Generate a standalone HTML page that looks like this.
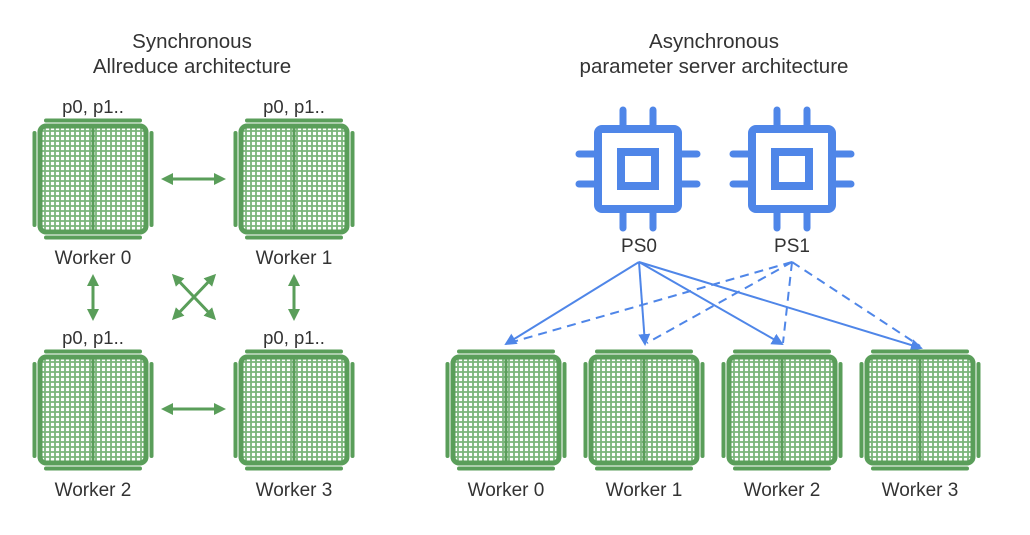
<!DOCTYPE html>
<html><head><meta charset="utf-8"><style>
body{margin:0;background:#fff;}
svg text{font-family:"Liberation Sans",sans-serif;fill:#333;}
</style></head><body>
<svg width="1030" height="530" viewBox="0 0 1030 530" xmlns="http://www.w3.org/2000/svg">
<defs>
<g id="w">
<rect x="-53" y="-53" width="106" height="106" rx="6" fill="#fff"/>
<path stroke="#7ab57a" stroke-width="1.8" fill="none" d="M-48 -53V53M-43 -53V53M-38 -53V53M-33 -53V53M-28 -53V53M-23 -53V53M-18 -53V53M-13 -53V53M-8 -53V53M-3 -53V53M3 -53V53M8 -53V53M13 -53V53M18 -53V53M23 -53V53M28 -53V53M33 -53V53M38 -53V53M43 -53V53M48 -53V53M-53 -48H53M-53 -43H53M-53 -38H53M-53 -33H53M-53 -28H53M-53 -23H53M-53 -18H53M-53 -13H53M-53 -8H53M-53 -3H53M-53 2H53M-53 7H53M-53 12H53M-53 17H53M-53 22H53M-53 27H53M-53 32H53M-53 37H53M-53 42H53M-53 47H53"/>
<rect x="-53" y="-53" width="106" height="106" rx="6" fill="none" stroke="#5a9e5a" stroke-width="5"/>
<line x1="0" y1="-52" x2="0" y2="52" stroke="#5a9e5a" stroke-width="3"/>
<line x1="-47" y1="-58.5" x2="47" y2="-58.5" stroke="#5a9e5a" stroke-width="4" stroke-linecap="round"/>
<line x1="-47" y1="58.5" x2="47" y2="58.5" stroke="#5a9e5a" stroke-width="4" stroke-linecap="round"/>
<line x1="-58.5" y1="-46" x2="-58.5" y2="46" stroke="#5a9e5a" stroke-width="4" stroke-linecap="round"/>
<line x1="58.5" y1="-46" x2="58.5" y2="46" stroke="#5a9e5a" stroke-width="4" stroke-linecap="round"/>
</g>
<g id="chip" fill="none" stroke="#4f86e8" stroke-linecap="round">
<rect x="-40" y="-40" width="80" height="80" rx="4" stroke-width="8"/>
<rect x="-17" y="-17" width="34" height="34" stroke-width="8"/>
<path d="M-15 -44V-59M15 -44V-59M-15 44V59M15 44V59M-44 -15H-59M-44 15H-59M44 -15H59M44 15H59" stroke-width="7"/>
</g>
<marker id="ga" markerWidth="12" markerHeight="12" refX="9" refY="6" orient="auto-start-reverse" markerUnits="userSpaceOnUse" viewBox="0 0 12 12"><path d="M0 0L12 6L0 12z" fill="#5a9e5a"/></marker>
<marker id="ba" markerWidth="12" markerHeight="12" refX="10" refY="6" orient="auto" markerUnits="userSpaceOnUse" viewBox="0 0 12 12"><path d="M0 0L12 6L0 12z" fill="#4f86e8"/></marker>
</defs>

<text x="192" y="48" font-size="20.5" text-anchor="middle">Synchronous</text>
<text x="192" y="73" font-size="20.5" text-anchor="middle">Allreduce architecture</text>
<text x="714" y="48" font-size="20.5" text-anchor="middle">Asynchronous</text>
<text x="714" y="73" font-size="20.5" text-anchor="middle">parameter server architecture</text>

<use href="#w" x="93" y="179"/>
<use href="#w" x="294" y="179"/>
<use href="#w" x="93" y="410"/>
<use href="#w" x="294" y="410"/>
<text x="93" y="113" font-size="18.5" text-anchor="middle">p0, p1..</text>
<text x="294" y="113" font-size="18.5" text-anchor="middle">p0, p1..</text>
<text x="93" y="344" font-size="18.5" text-anchor="middle">p0, p1..</text>
<text x="294" y="344" font-size="18.5" text-anchor="middle">p0, p1..</text>
<text x="93" y="264" font-size="19" text-anchor="middle">Worker 0</text>
<text x="294" y="264" font-size="19" text-anchor="middle">Worker 1</text>
<text x="93" y="496" font-size="19" text-anchor="middle">Worker 2</text>
<text x="294" y="496" font-size="19" text-anchor="middle">Worker 3</text>

<g stroke="#5a9e5a" stroke-width="3" fill="none">
<line x1="164" y1="179" x2="223" y2="179" marker-start="url(#ga)" marker-end="url(#ga)"/>
<line x1="164" y1="409" x2="223" y2="409" marker-start="url(#ga)" marker-end="url(#ga)"/>
<line x1="93" y1="277" x2="93" y2="318" marker-start="url(#ga)" marker-end="url(#ga)"/>
<line x1="294" y1="277" x2="294" y2="318" marker-start="url(#ga)" marker-end="url(#ga)"/>
<line x1="174" y1="276" x2="214" y2="318" marker-start="url(#ga)" marker-end="url(#ga)"/>
<line x1="214" y1="276" x2="174" y2="318" marker-start="url(#ga)" marker-end="url(#ga)"/>
</g>

<use href="#chip" x="638" y="169"/>
<use href="#chip" x="792" y="169"/>
<text x="639" y="252" font-size="19" text-anchor="middle">PS0</text>
<text x="792" y="252" font-size="19" text-anchor="middle">PS1</text>

<g stroke="#4f86e8" stroke-width="2" fill="none">
<line x1="639" y1="262" x2="506" y2="344" marker-end="url(#ba)"/>
<line x1="639" y1="262" x2="645" y2="344" marker-end="url(#ba)"/>
<line x1="639" y1="262" x2="782" y2="344" marker-end="url(#ba)"/>
<line x1="639" y1="262" x2="921" y2="348" marker-end="url(#ba)"/>
<g stroke-dasharray="9,6">
<line x1="792" y1="262" x2="509" y2="343"/>
<line x1="792" y1="262" x2="647" y2="343"/>
<line x1="792" y1="262" x2="783" y2="343"/>
<line x1="792" y1="262" x2="920" y2="346"/>
</g>
</g>

<use href="#w" x="506" y="410"/>
<use href="#w" x="644" y="410"/>
<use href="#w" x="782" y="410"/>
<use href="#w" x="920" y="410"/>
<text x="506" y="496" font-size="19" text-anchor="middle">Worker 0</text>
<text x="644" y="496" font-size="19" text-anchor="middle">Worker 1</text>
<text x="782" y="496" font-size="19" text-anchor="middle">Worker 2</text>
<text x="920" y="496" font-size="19" text-anchor="middle">Worker 3</text>
</svg>
</body></html>
